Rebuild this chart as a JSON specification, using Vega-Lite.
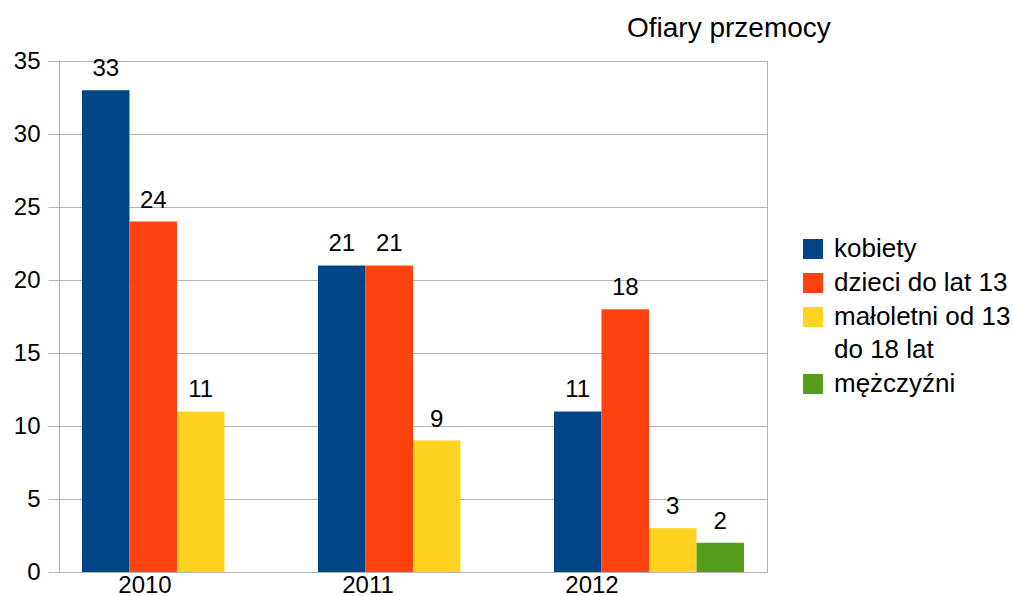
{
  "$schema": "https://vega.github.io/schema/vega-lite/v6.json",
  "width": 708,
  "height": 511,
  "autosize": "none",
  "padding": {"left": 59, "top": 61, "right": 246, "bottom": 24},
  "background": "white",
  "title": {
    "text": "Ofiary przemocy",
    "anchor": "start",
    "frame": "group",
    "dx": 568,
    "offset": 6,
    "font": "Liberation Sans",
    "fontSize": 28,
    "fontWeight": "normal",
    "color": "black"
  },
  "config": {
    "view": {"stroke": "#b3b3b3", "strokeWidth": 1},
    "font": "Liberation Sans"
  },
  "data": {
    "values": [
      {"rok": "2010", "grupa": "kobiety", "liczba": 33},
      {"rok": "2010", "grupa": "dzieci do lat 13", "liczba": 24},
      {"rok": "2010", "grupa": "małoletni od 13 do 18 lat", "liczba": 11},
      {"rok": "2011", "grupa": "kobiety", "liczba": 21},
      {"rok": "2011", "grupa": "dzieci do lat 13", "liczba": 21},
      {"rok": "2011", "grupa": "małoletni od 13 do 18 lat", "liczba": 9},
      {"rok": "2012", "grupa": "kobiety", "liczba": 11},
      {"rok": "2012", "grupa": "dzieci do lat 13", "liczba": 18},
      {"rok": "2012", "grupa": "małoletni od 13 do 18 lat", "liczba": 3},
      {"rok": "2012", "grupa": "mężczyźni", "liczba": 2}
    ]
  },
  "encoding": {
    "x": {
      "field": "rok",
      "type": "nominal",
      "scale": {"paddingInner": 0.195, "paddingOuter": 0.0975},
      "axis": {
        "title": null,
        "labelAngle": 0,
        "ticks": false,
        "domain": false,
        "labelFontSize": 24,
        "labelColor": "black",
        "labelPadding": 1,
        "labelOffset": {"expr": "datum.value == '2010' ? -32 : datum.value == '2011' ? -45 : -57"},
        "labelFont": "Liberation Sans"
      }
    },
    "xOffset": {
      "field": "grupa",
      "type": "nominal",
      "sort": ["kobiety", "dzieci do lat 13", "małoletni od 13 do 18 lat", "mężczyźni"],
      "scale": {"paddingInner": 0, "paddingOuter": 0}
    },
    "y": {
      "field": "liczba",
      "type": "quantitative",
      "scale": {"domain": [0, 35], "nice": false},
      "axis": {
        "title": null,
        "values": [0, 5, 10, 15, 20, 25, 30, 35],
        "grid": true,
        "gridColor": "#b3b3b3",
        "gridWidth": 1,
        "gridOpacity": 1,
        "domainColor": "#b3b3b3",
        "tickColor": "#b3b3b3",
        "tickSize": 11,
        "labelFontSize": 24,
        "labelColor": "black",
        "labelPadding": 8,
        "labelFont": "Liberation Sans"
      }
    }
  },
  "layer": [
    {
      "mark": {"type": "bar"},
      "encoding": {
        "color": {
          "field": "grupa",
          "type": "nominal",
          "scale": {
            "domain": ["kobiety", "dzieci do lat 13", "małoletni od 13 do 18 lat", "mężczyźni"],
            "range": ["#004586", "#ff420e", "#ffd320", "#579d1c"]
          },
          "legend": {
            "title": null,
            "orient": "none",
            "legendX": 741,
            "legendY": 175,
            "symbolType": "square",
            "symbolSize": 400,
            "symbolStrokeWidth": 0,
            "symbolOpacity": 1,
            "labelFontSize": 26,
            "labelFont": "Liberation Sans",
            "labelColor": "black",
            "labelOffset": 8,
            "labelLimit": 300,
            "rowPadding": 8,
            "labelExpr": "datum.label == 'małoletni od 13 do 18 lat' ? ['małoletni od 13', 'do 18 lat'] : datum.label",
            "encode": {
              "labels": {
                "update": {
                  "lineHeight": {"value": 33}
                }
              }
            }
          }
        }
      }
    },
    {
      "mark": {"type": "text", "baseline": "alphabetic", "dy": -14, "fontSize": 24, "font": "Liberation Sans", "color": "black"},
      "encoding": {
        "text": {"field": "liczba", "type": "quantitative"}
      }
    }
  ]
}
